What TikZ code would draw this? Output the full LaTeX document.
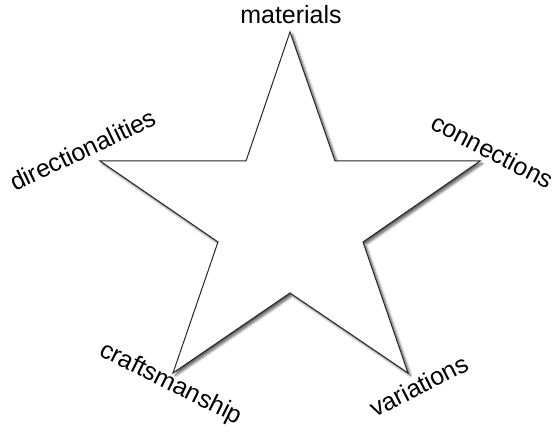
\documentclass[tikz,border=0pt]{standalone}
\usepackage{fontspec}
\setmainfont{Liberation Sans}
\usetikzlibrary{shadows.blur}
\begin{document}
\begin{tikzpicture}[x=1pt,y=-1pt,
  lbl/.style={inner sep=0pt,font=\fontsize{25}{30}\selectfont},
  starline/.style={draw=black!85,line width=1pt,fill=white,line join=miter,
    blur shadow={shadow xshift=2.5pt,shadow yshift=-2.5pt,shadow blur steps=6,shadow opacity=65,shadow blur radius=2.5pt}}]
\useasboundingbox (0,0) rectangle (555,435);
\coordinate (o1) at (290,32);
\coordinate (i1) at (335,161);
\coordinate (o2) at (480,161);
\coordinate (i2) at (363,242);
\coordinate (o3) at (408,373);
\coordinate (i3) at (290,293);
\coordinate (o4) at (173,373);
\coordinate (i4) at (218,242);
\coordinate (o5) at (100,161);
\coordinate (i5) at (246,161);
\path[starline] (o1) -- (i1) -- (o2) -- (i2) -- (o3) -- (i3) -- (o4) -- (i4) -- (o5) -- (i5) -- cycle;
\node[lbl,anchor=base] (mat) at (291,24) {materials};
\node[lbl,anchor=base west,rotate=25.5] (dir) at (15,192) {directionalities};
\node[lbl,anchor=base west,rotate=-27.5] (con) at (429,128) {connections};
\node[lbl,anchor=base west,rotate=-26.5] (cra) at (98,355) {craftsmanship};
\node[lbl,anchor=base west,rotate=27] (var) at (375,418) {variations};
\end{tikzpicture}
\end{document}
